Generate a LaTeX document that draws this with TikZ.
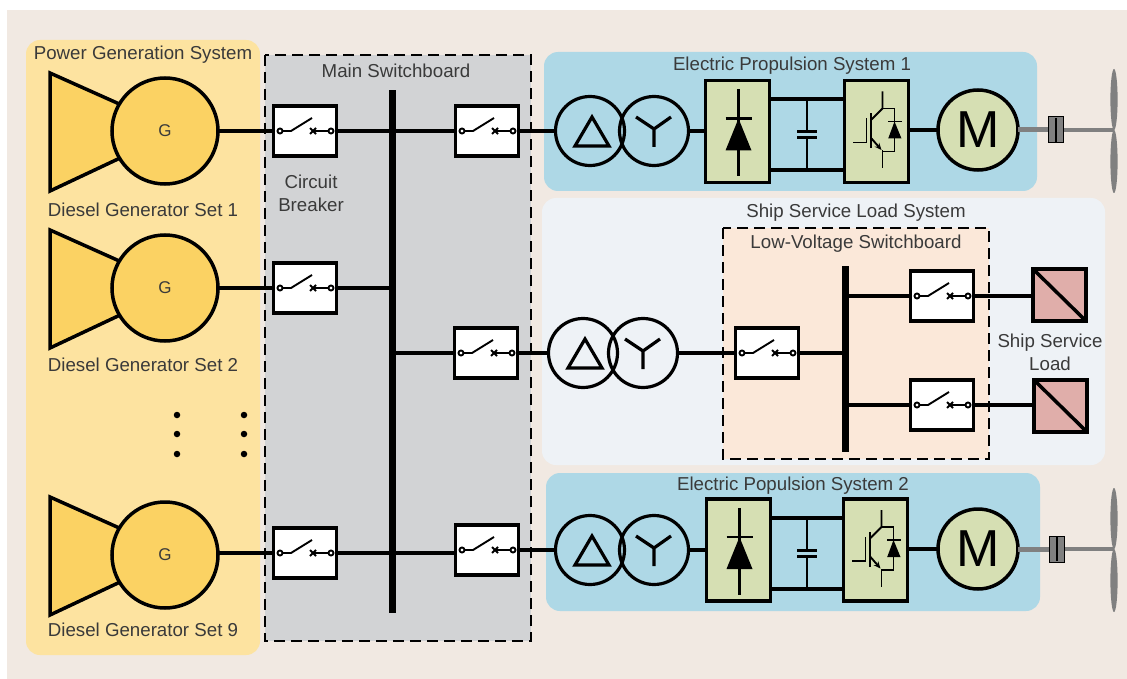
\documentclass[tikz,border=0pt]{standalone}
\usepackage{fontspec}
\setmainfont{Liberation Sans}
\definecolor{pagebg}{HTML}{F1E9E2}
\definecolor{gensys}{HTML}{FDE3A0}
\definecolor{genfill}{HTML}{FBD263}
\definecolor{msb}{HTML}{D2D3D5}
\definecolor{blueb}{HTML}{AED8E6}
\definecolor{shipb}{HTML}{EEF2F6}
\definecolor{lvb}{HTML}{FBE8D9}
\definecolor{greenb}{HTML}{D6DFB3}
\definecolor{pinkb}{HTML}{E0AEAA}
\definecolor{txt}{HTML}{3A3A3A}
\definecolor{shaft}{HTML}{808080}
\tikzset{
  x=1pt,y=-1pt,
  wire/.style={line width=3.1pt,draw=black},
  sym/.style={line width=1.9pt,draw=black},
  region/.style={rounded corners=14pt,draw=none},
  dashbox/.style={line width=1.7pt,draw=black,dash pattern=on 11pt off 6pt},
  brkbox/.style={draw=black,line width=3.5pt,fill=white,minimum width=63pt,minimum height=50pt,inner sep=0pt,outer sep=0pt},
  convbox/.style={draw=black,line width=3.5pt,fill=greenb,minimum width=64pt,minimum height=102pt,inner sep=0pt,outer sep=0pt},
  loadbox/.style={draw=black,line width=3.5pt,fill=pinkb,minimum width=53pt,minimum height=52pt,inner sep=0pt,outer sep=0pt},
  gen/.style={circle,draw=black,line width=3.5pt,fill=genfill,minimum size=106pt,inner sep=0pt,outer sep=0pt,text=txt,font=\fontsize{17}{17}\selectfont},
  motor/.style={circle,draw=black,line width=3.5pt,fill=greenb,minimum size=80pt,inner sep=0pt,outer sep=0pt,font=\fontsize{52}{52}\selectfont},
  xf/.style={circle,draw=black,line width=3.2pt,minimum size=69pt,inner sep=0pt,outer sep=0pt},
  busbar/.style={fill=black,draw=none,minimum width=7pt,inner sep=0pt,outer sep=0pt},
  lbl/.style={text=txt,font=\fontsize{18.7}{23}\selectfont,inner sep=0pt,align=center},
  dotn/.style={circle,fill=black,minimum size=6.5pt,inner sep=0pt},
}
\newcommand{\brk}[3]{%
  \node[brkbox] (#1) at (#2,#3) {};
  \begin{scope}[shift={(#2,#3)}]
    \draw[sym] (-25,0) circle (2.5);
    \draw[sym] (-22.5,0) -- (-14,0) -- (7,-13);
    \draw[sym] (8,0) -- (23.5,0);
    \draw[sym] (26,0) circle (2.5);
    \draw[sym] (5,-3) -- (11,3) (5,3) -- (11,-3);
  \end{scope}}
\newcommand{\gent}[3]{%
  \begin{scope}[shift={(#2,#3)}]
    \draw[line width=3.5pt,fill=genfill,line join=miter] (-115,-58) -- (-30,-20) -- (-30,20) -- (-115,60) -- cycle;
  \end{scope}
  \node[gen] (#1) at (#2,#3) {G};}
\newcommand{\xfmr}[4]{%
  \node[xf] (#1a) at (#2,#4) {};
  \node[xf] (#1b) at (#3,#4) {};
  \begin{scope}[shift={(#2,#4)}]
    \draw[line width=3.2pt,line join=miter] (-15,15) -- (19,15) -- (2,-14) -- cycle;
  \end{scope}
  \begin{scope}[shift={(#3,#4)}]
    \draw[line width=3.2pt] (-18,-14) -- (0,-2) -- (17,-14) (0,-2) -- (0,16);
  \end{scope}}
\newcommand{\rect}[3]{%
  \node[convbox,anchor=north west] (#1) at (#2,#3) {};
  \begin{scope}[shift={(#2,#3)}]
    \draw[line width=2.8pt] (33,9) -- (33,96);
    \draw[line width=2.8pt] (20,38) -- (46,38);
    \fill (33,38) -- (46,70) -- (20,70) -- cycle;
  \end{scope}}
\newcommand{\inv}[3]{%
  \node[convbox,anchor=north west] (#1) at (#2,#3) {};
  \begin{scope}[shift={(#2,#3)}]
    \draw[sym] (38,11) -- (38,28) -- (27,39);
    \draw[sym] (26.3,33) -- (26.3,68);
    \draw[sym] (22,38) -- (22,62) -- (8.7,62);
    \draw[sym,-{Stealth[length=7pt,width=6pt]}] (27,58) -- (37,69.5);
    \draw[sym] (38,70) -- (38,88);
    \draw[sym] (38,28) -- (50,28) -- (50,71) -- (38,71);
    \draw[sym] (43.7,41) -- (57,41);
    \fill (50,41) -- (57,58) -- (43.7,58) -- cycle;
  \end{scope}}
\newcommand{\prop}[6]{% name, coupling x, shaft y, from-node, top, bottom
  \node[draw=black,line width=1pt,fill=shaft,minimum width=15pt,minimum height=26pt,inner sep=0pt] (#1c) at (#2,#3) {};
  \coordinate (#1h) at (1114,#3);
  \fill[shaft] (1114,{(#5+#3)/2}) ellipse (3.6 and {(#3-#5)/2});
  \fill[shaft] (1114,{(#6+#3)/2}) ellipse (3.6 and {(#6-#3)/2});
  \draw[line width=5pt,draw=shaft] (#4.east) -- (#1c.west);
  \draw[line width=4pt,draw=shaft] (#1c.east) -- (#1h);
  \draw[line width=1.2pt] (#2,#3-12) -- (#2,#3+12);
  }
\usetikzlibrary{arrows.meta}
\begin{document}
\begin{tikzpicture}
\useasboundingbox (0,0) rectangle (1127,679);
\fill[white] (0,0) rectangle (1127,679);
\fill[pagebg] (7,10) rectangle (1127,679);
% regions
\path[region,fill=gensys] (26,40) rectangle (260,655);
\path[fill=msb] (265,55) rectangle (531,641);
\path[region,fill=blueb] (544,52) rectangle (1037,191);
\path[region,fill=blueb] (546,473) rectangle (1040,611);
\path[region,fill=shipb] (542,198) rectangle (1105,465);
\path[fill=lvb] (723,228) rectangle (989,459);
% labels
\node[lbl] (tpg) at (143,55) {Power Generation System};
\node[lbl] (tms) at (396,71) {Main Switchboard};
\node[lbl] (tp1) at (792,66) {Electric Propulsion System 1};
\node[lbl] (tss) at (856,213) {Ship Service Load System};
\node[lbl] (tlv) at (856,244) {Low-Voltage Switchboard};
\node[lbl] (tp2) at (793,486) {Electric Populsion System 2};
\node[lbl] (tcb) at (311,193) {Circuit\\Breaker};
\node[lbl] (tg1) at (143,210) {Diesel Generator Set 1};
\node[lbl] (tg2) at (143,365) {Diesel Generator Set 2};
\node[lbl] (tg9) at (143,630) {Diesel Generator Set 9};
\node[lbl] (tsl) at (1050,352) {Ship Service\\Load};
% dots
\foreach \nx/\x in {a/177,b/244}\foreach \ny/\y in {1/415,2/434,3/454}
  \node[dotn] (d\nx\ny) at (\x,\y) {};
% generators
\gent{g1}{165}{131}
\gent{g2}{165}{288}
\gent{g3}{165}{555}
% busses
\node[busbar,minimum height=411pt] (bus1) at (392,295.5) {};
\node[busbar,minimum height=112pt] (bus2) at (392,557) {};
\node[busbar,minimum height=186pt] (bus3) at (845,359) {};
% breakers
\brk{b1}{305}{131}
\brk{b2}{305}{288}
\brk{b3}{305}{553}
\brk{m1}{487}{131}
\brk{m2}{486}{353}
\brk{m3}{487}{550}
\brk{lv0}{767}{353}
\brk{lv1}{942}{296}
\brk{lv2}{942}{405}
% transformers
\xfmr{t1}{590}{654}{131}
\xfmr{t2}{583}{643}{353}
\xfmr{t3}{590}{654}{550}
% converters
\rect{r1}{705.5}{80.5}
\inv{i1}{844.5}{80.5}
\rect{r3}{706.5}{499}
\inv{i3}{843.5}{499}
% motors
\node[motor] (mo1) at (978,130) {M};
\node[motor] (mo3) at (978,549) {M};
% loads
\node[loadbox] (l1) at (1059.5,295) {};
\node[loadbox] (l2) at (1060.5,406) {};
\draw[line width=3.5pt] (l1.north west) -- (l1.south east);
\draw[line width=3.5pt] (l2.north west) -- (l2.south east);
% wires
\draw[wire] (g1.east) -- (b1.west);
\draw[wire] (g2.east) -- (b2.west);
\draw[wire] (b3.west -| g3.east) -- (b3.west);
\draw[wire] (b1.east) -- (m1.west);
\draw[wire] (b2.east) -- (b2.east -| bus1.center);
\draw[wire] (b3.east) -- (b3.east -| m3.west);
\draw[wire] (m2.west) -- (m2.west -| bus1.center);
\draw[wire] (m1.east) -- (t1a.west);
\draw[wire] (m2.east) -- (t2a.west);
\draw[wire] (m3.east) -- (t3a.west);
\draw[wire] (t2b.east) -- (lv0.west);
\draw[wire] (lv0.east) -- (lv0.east -| bus3.center);
\draw[wire] (lv1.west) -- (lv1.west -| bus3.center);
\draw[wire] (lv2.west) -- (lv2.west -| bus3.center);
\draw[wire] (lv1.east) -- (lv1.east -| l1.west);
\draw[wire] (lv2.east) -- (lv2.east -| l2.west);
\draw[wire] (t1b.east) -- (t1b.east -| r1.west);
\draw[wire] (t3b.east) -- (t3b.east -| r3.west);
\draw[wire] (r1.east |- 0,99) -- (i1.west |- 0,99);
\draw[wire] (r1.east |- 0,170) -- (i1.west |- 0,170);
\draw[wire] (r3.east |- 0,518) -- (i3.west |- 0,518);
\draw[wire] (r3.east |- 0,589) -- (i3.west |- 0,589);
\draw[wire] (i1.east |- mo1.west) -- (mo1.west);
\draw[wire] (i3.east |- mo3.west) -- (mo3.west);
% capacitors
\foreach \cx/\ya/\yb in {807/99/170,807/518/589}{
  \draw[line width=2.8pt] (\cx,\ya) -- (\cx,{(\ya+\yb)/2-3}) (\cx,{(\ya+\yb)/2+3}) -- (\cx,\yb);
  \draw[line width=2.8pt] (\cx-10,{(\ya+\yb)/2-3}) -- (\cx+10,{(\ya+\yb)/2-3});
  \draw[line width=2.8pt] (\cx-10,{(\ya+\yb)/2+3}) -- (\cx+10,{(\ya+\yb)/2+3});
}
% shafts and propellers
\prop{p1}{1056}{130}{mo1}{69}{193}
\prop{p3}{1057}{549}{mo3}{488}{612}
% dashed outlines
\draw[dashbox] (265,55) rectangle (531,641);
\draw[dashbox] (723,228) rectangle (989,459);
\end{tikzpicture}
\end{document}
